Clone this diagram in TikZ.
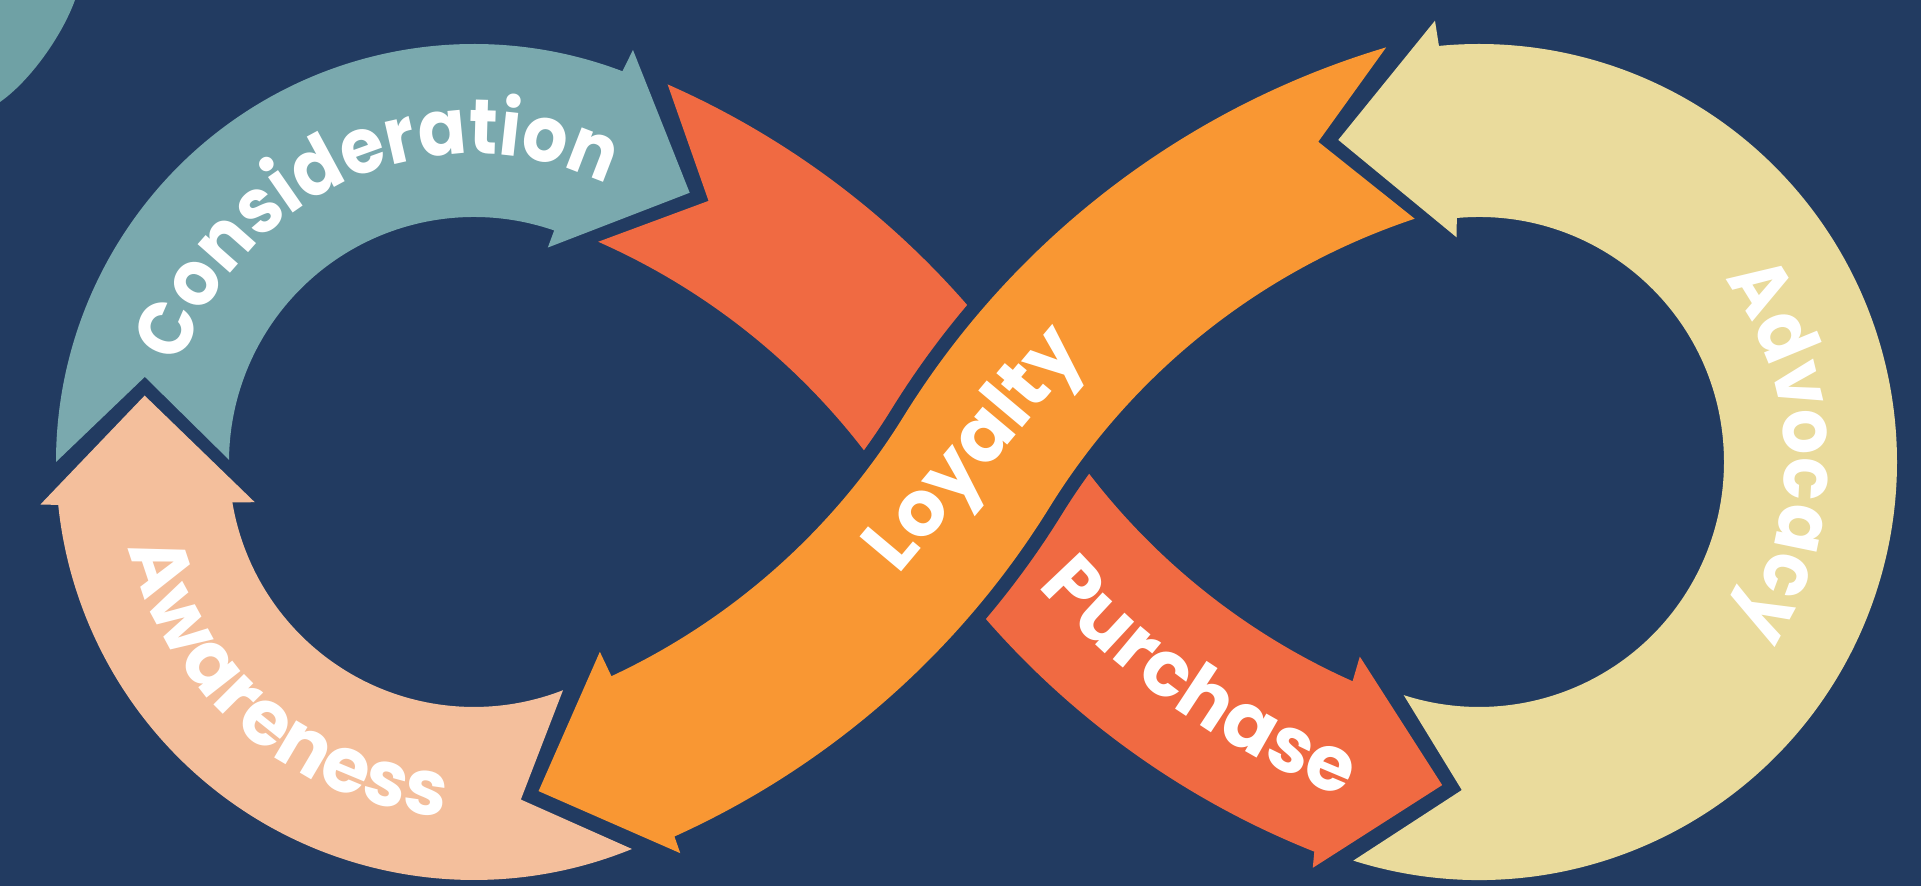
\documentclass[tikz,border=0pt]{standalone}
\usepackage{fontspec}
\newfontfamily\lblfont{Poppins}
\newfontfamily\lblfontc{Poppins}[FakeStretch=0.92]
\usetikzlibrary{decorations.text}
\definecolor{cNavy}{RGB}{34,59,97}
\definecolor{cTeal}{RGB}{122,169,174}
\definecolor{cTealDark}{RGB}{111,161,165}
\definecolor{cPeach}{RGB}{244,191,156}
\definecolor{cRed}{RGB}{240,106,66}
\definecolor{cOrange}{RGB}{249,151,51}
\definecolor{cYellow}{RGB}{234,219,156}
\begin{document}
\begin{tikzpicture}[x=0.01cm, y=0.01cm,
  arctext/.style={decorate, decoration={text along path, text align=center, text color=white,
      text={|\lblfont\bfseries\fontsize{22pt}{22pt}\selectfont|#1}}},
  arctextc/.style={decorate, decoration={text along path, text align=center, text color=white,
      text={|\lblfontc\bfseries\fontsize{22pt}{22pt}\selectfont|#1}}},
  halo/.style={draw=cNavy, line width=0.28cm},
  lbl/.style={text=white, font=\lblfont\bfseries\fontsize{22pt}{22pt}\selectfont, inner sep=0pt}]
\useasboundingbox (0,0) rectangle (1921,886);
\fill[cNavy] (0,0) rectangle (1921,886);

\coordinate (L) at (474,424);
\coordinate (R) at (1479,424);
\coordinate (C1) at (322.6,19.3);
\coordinate (C2) at (1630.4,828.7);
\coordinate (C3) at (1630.4,19.3);
\coordinate (C4) at (322.6,828.7);

% corner piece
\fill[cTealDark] (0,886) -- (75,886) .. controls (62,850) and (30,805) .. (0,784) -- cycle;

% Consideration
\fill[cTeal] ([shift={(179.5:245)}]L) -- ([shift={(165.5:340)}]L) -- ([shift={(180:418)}]L)
  arc[start angle=180, end angle=69.2, radius=418]
  -- ([shift={(68.9:441.6)}]L) -- ([shift={(51.3:345)}]L) -- ([shift={(71:226.8)}]L)
  -- ([shift={(70.9:245)}]L) arc[start angle=70.9, end angle=179.5, radius=245] -- cycle;

% Awareness
\fill[cPeach] ([shift={(-67.8:418)}]L) arc[start angle=-67.8, end angle=-174.1, radius=418]
  -- ([shift={(-174.4:435.7)}]L) -- ([shift={(-191.4:336)}]L) -- ([shift={(-169.6:222.9)}]L)
  -- ([shift={(-170.5:245)}]L) arc[start angle=-170.5, end angle=-68.7, radius=245]
  -- ([shift={(-82.1:340.8)}]L) -- cycle;

% Advocacy
\fill[cYellow] ([shift={(-107.5:418)}]R) arc[start angle=-107.5, end angle=95.5, radius=418]
  -- ([shift={(95.7:443.5)}]R) -- ([shift={(113.6:351.5)}]R) -- ([shift={(95.7:225.8)}]R)
  -- ([shift={(95.2:245)}]R) arc[start angle=95.2, end angle=-107.9, radius=245]
  -- ([shift={(-93:328.5)}]R) -- cycle;

% red piece (upper half of the purchase band)
\fill[cRed] ([shift={(66.2:855)}]C1) arc[start angle=66.2, end angle=31.76, radius=855]
  -- ([shift={(31.76:683)}]C1) arc[start angle=31.76, end angle=66.2, radius=683]
  -- ([shift={(59.9:769.6)}]C1) -- cycle;

% Purchase
\fill[cRed] ([shift={(211.76:683)}]C2) arc[start angle=211.76, end angle=246, radius=683]
  -- ([shift={(245.7:657.6)}]C2) -- ([shift={(255.5:751.8)}]C2) -- ([shift={(248.6:870.6)}]C2)
  -- ([shift={(248.3:855)}]C2) arc[start angle=248.3, end angle=211.76, radius=855] -- cycle;

% halo of the loyalty band where it crosses
\draw[halo] ([shift={(135:855)}]C3) arc[start angle=135, end angle=148.24, radius=855]
  arc[start angle=-31.76, end angle=-45, radius=683];
\draw[halo] ([shift={(135:683)}]C3) arc[start angle=135, end angle=148.24, radius=683]
  arc[start angle=-31.76, end angle=-48, radius=855];

% Loyalty
\fill[cOrange] ([shift={(106.6:855)}]C3) arc[start angle=106.6, end angle=148.24, radius=855]
  arc[start angle=-31.76, end angle=-65.0, radius=683]
  -- ([shift={(-65.0:656)}]C4) -- ([shift={(-73.6:765)}]C4) -- ([shift={(-65.8:872.6)}]C4)
  -- ([shift={(-65.7:855)}]C4) arc[start angle=-65.7, end angle=-31.76, radius=855]
  arc[start angle=148.24, end angle=108.4, radius=683]
  -- ([shift={(113.3:789.3)}]C3) -- cycle;

% labels
\path[arctextc=Consideration] ([shift={(165:308)}]L) arc[start angle=165, end angle=61, radius=308];
\path[arctext=Awareness] ([shift={(189.5:356)}]L) arc[start angle=189.5, end angle=269.5, radius=356];
\path[arctextc=Advocacy] ([shift={(42:306)}]R) arc[start angle=42, end angle=-38, radius=306];
\path[arctext=Purchase] ([shift={(219.3:794)}]C2) arc[start angle=219.3, end angle=251.3, radius=794];
\node[lbl, rotate=50] (loyaltytext) at (978,434) {Loyalty};
\end{tikzpicture}
\end{document}
